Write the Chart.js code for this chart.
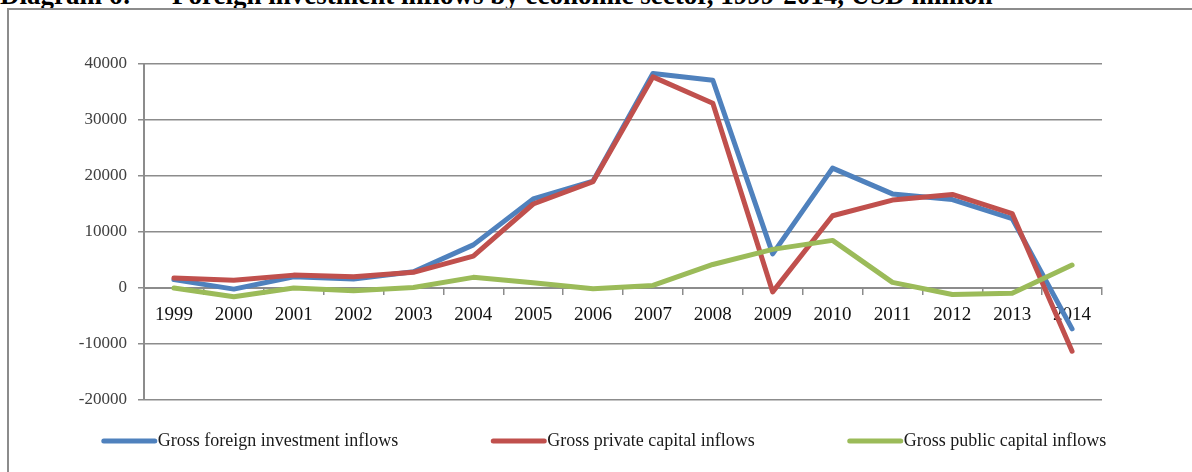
<!DOCTYPE html>
<html>
<head>
<meta charset="utf-8">
<title>Foreign investment inflows</title>
<script src="https://cdn.jsdelivr.net/npm/chart.js@4"></script>
<style>
    html, body { margin: 0; padding: 0; background: #fff; overflow: hidden; }
    body { width: 1192px; height: 472px; position: relative; }
    .caption {
        position: absolute;
        top: -18px;
        left: 0;
        font: bold 27px/27px "Liberation Serif", "Times New Roman", serif;
        color: #000;
        white-space: nowrap;
    }
    .caption span { position: absolute; top: 0; }
    .frame {
        position: absolute;
        left: 7px;
        top: 8px;
        width: 1200px;
        height: 480px;
        border-left: 2px solid #8c8c8c;
        border-top: 2px solid #8c8c8c;
    }
    #inflowsChart { display: block; }
</style>
</head>
<body>
<div class="caption">
    <span style="left:0">Diagram 6:</span>
    <span style="left:172px">Foreign investment inflows by economic sector, 1999-2014, USD million</span>
</div>
<div class="frame">
    <canvas id="inflowsChart" width="1190" height="462"></canvas>
</div>

<script>
// Years and inflows, USD million
const years = ['1999', '2000', '2001', '2002', '2003', '2004', '2005', '2006',
               '2007', '2008', '2009', '2010', '2011', '2012', '2013', '2014'];
const foreignInflows = [1500, -200, 2000, 1600, 2900, 7700, 15900, 19100,
                        38300, 37100, 6100, 21400, 16800, 15800, 12400, -7300];
const privateInflows = [1800, 1400, 2300, 2000, 2800, 5700, 15000, 19000,
                        37700, 33000, -700, 12900, 15700, 16700, 13300, -11300];
const publicInflows = [0, -1550, 0, -500, 100, 1900, 950, -150,
                       450, 4200, 6900, 8500, 1000, -1150, -950, 4100];
const seriesNames = ['Gross foreign investment inflows', 'Gross private capital inflows', 'Gross public capital inflows'];
const yTicks = { min: -20000, max: 40000, step: 10000 };

const colors = ['#4f81bd', '#c0504d', '#9bbb59'];
const gridColor = '#8c8c8c';
const serif = '"Liberation Serif", "Times New Roman", serif';

// Legend row under the plot: short thick line followed by the series name
const legendRow = {
    id: 'legendRow',
    afterDraw(chart) {
        const ctx = chart.ctx;
        const sample = 55;
        const gap = 93;
        ctx.save();
        ctx.font = '18px ' + serif;
        const items = chart.data.datasets.map(ds => ({
            label: ds.label,
            color: ds.borderColor,
            width: sample + 1 + ctx.measureText(ds.label).width
        }));
        const total = items.reduce((s, it) => s + it.width, 0) + gap * (items.length - 1);
        let x = (chart.width - total) / 2;
        const y = chart.chartArea.bottom + 41;
        items.forEach(it => {
            ctx.strokeStyle = it.color;
            ctx.lineWidth = 5;
            ctx.lineCap = 'round';
            ctx.beginPath();
            ctx.moveTo(x + 2, y);
            ctx.lineTo(x + sample - 2, y);
            ctx.stroke();
            ctx.fillStyle = '#1a1a1a';
            ctx.textBaseline = 'middle';
            ctx.textAlign = 'left';
            ctx.fillText(it.label, x + sample + 1, y);
            x += it.width + gap;
        });
        ctx.restore();
    }
};

const lineStyle = {
    borderWidth: 5,
    pointRadius: 0,
    tension: 0,
    fill: false,
    borderCapStyle: 'round',
    borderJoinStyle: 'round'
};

new Chart(document.getElementById('inflowsChart'), {
    type: 'line',
    data: {
        labels: years,
        datasets: [
            { label: seriesNames[0], data: foreignInflows, borderColor: colors[0], order: 3, ...lineStyle },
            { label: seriesNames[1], data: privateInflows, borderColor: colors[1], order: 2, ...lineStyle },
            { label: seriesNames[2], data: publicInflows, borderColor: colors[2], order: 1, ...lineStyle }
        ]
    },
    options: {
        responsive: false,
        animation: false,
        layout: { padding: { left: 0, right: 97, top: 54, bottom: 72 } },
        plugins: {
            legend: { display: false },
            tooltip: { enabled: false }
        },
        scales: {
            x: {
                type: 'category',
                position: { y: 0 },
                offset: true,
                grid: {
                    offset: true,
                    drawOnChartArea: false,
                    drawTicks: true,
                    tickLength: 6,
                    color: gridColor,
                    lineWidth: 1.5
                },
                border: { color: gridColor, width: 2 },
                ticks: {
                    font: { family: serif, size: 19 },
                    color: '#111',
                    padding: 10,
                    maxRotation: 0,
                    autoSkip: false
                },
                afterFit: scale => { scale.height = 0; }
            },
            y: {
                min: yTicks.min,
                max: yTicks.max,
                grid: {
                    color: gridColor,
                    lineWidth: 1.5,
                    tickLength: 6
                },
                border: { color: gridColor, width: 2 },
                ticks: {
                    stepSize: yTicks.step,
                    font: { family: serif, size: 17 },
                    color: '#404040',
                    padding: 11,
                    callback: v => String(v)
                },
                afterFit: scale => { scale.width = 135; }
            }
        }
    },
    plugins: [legendRow]
});
</script>
</body>
</html>
